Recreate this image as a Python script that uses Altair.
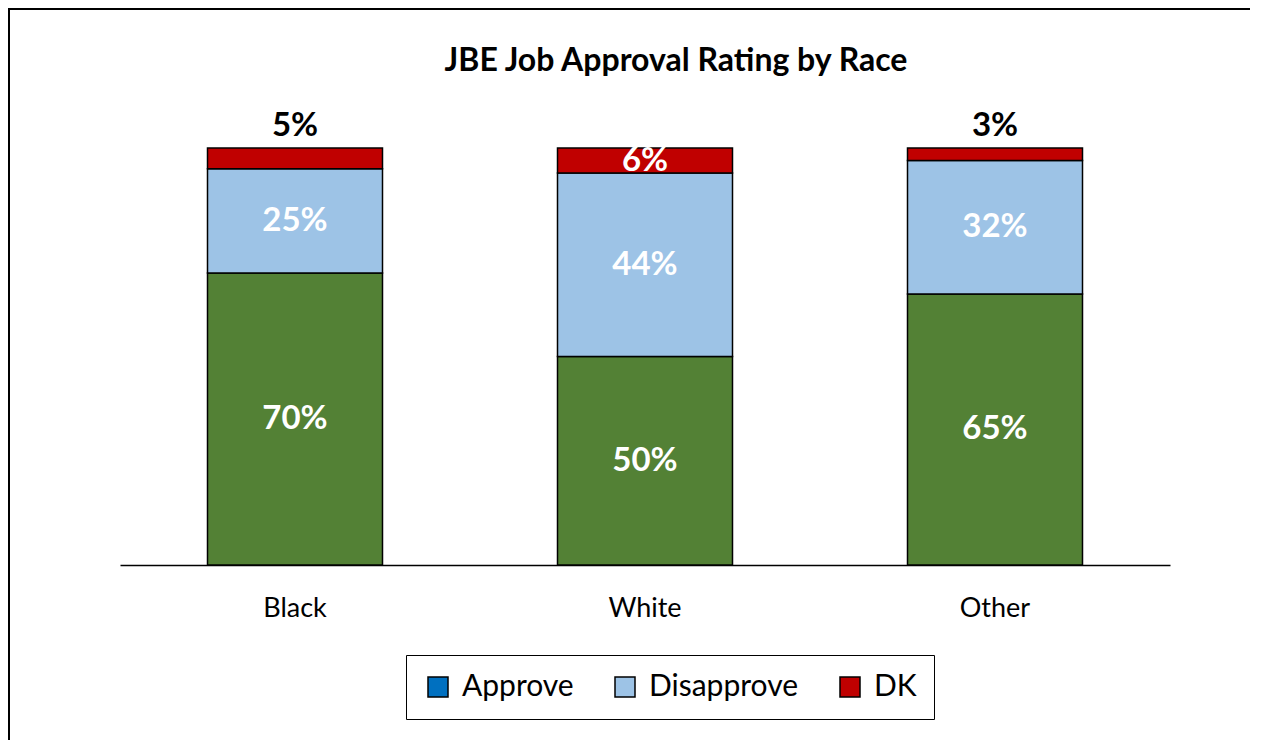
import altair as alt
import pandas as pd

races = ["Black", "White", "Other"]
series = ["Approve", "Disapprove", "DK"]
approve = [0.70, 0.50, 0.65]
disapprove = [0.25, 0.44, 0.32]
dk = [0.05, 0.06, 0.03]

bar_colors = ["#538135", "#9DC3E6", "#C00000"]
legend_colors = ["#0070C0", "#9DC3E6", "#C00000"]

rows = []
for i, r in enumerate(races):
    for s, vals in zip(series, [approve, disapprove, dk]):
        rows.append({"race": r, "series": s, "value": vals[i]})
df = pd.DataFrame(rows)

FONT = "Lato"

base = alt.Chart(df).transform_calculate(
    idx="indexof(['Approve','Disapprove','DK'], datum.series)"
)

x_enc = alt.X(
    "race:N",
    sort=races,
    scale=alt.Scale(paddingInner=0.5, paddingOuter=0.25),
    axis=alt.Axis(
        title=None, labelAngle=0, ticks=False, tickSize=0,
        domainColor="black", domainWidth=1.5,
        labelFontSize=27, labelFont=FONT, labelColor="black", labelPadding=30,
    ),
)

bars = base.mark_bar(stroke="black", strokeWidth=1.5).encode(
    x=x_enc,
    y=alt.Y("value:Q", stack="zero", scale=alt.Scale(domain=[0, 1], nice=False), axis=None),
    color=alt.Color("series:N", scale=alt.Scale(domain=series, range=bar_colors), legend=None),
    order=alt.Order("idx:Q", sort="ascending"),
)

stacked = base.transform_stack(
    stack="value", groupby=["race"], as_=["y0", "y1"], sort=[alt.SortField("idx")]
).transform_calculate(mid="(datum.y0 + datum.y1) / 2")

inside = stacked.transform_filter(
    "datum.series != 'DK' || datum.value >= 0.06"
).mark_text(font=FONT, fontSize=33, fontWeight="bold", color="white", baseline="middle").encode(
    x=alt.X("race:N", sort=races),
    y=alt.Y("mid:Q"),
    text=alt.Text("value:Q", format=".0%"),
)

outside = stacked.transform_filter(
    "datum.series == 'DK' && datum.value < 0.06"
).mark_text(font=FONT, fontSize=33, fontWeight="bold", color="black", baseline="alphabetic", dy=-12).encode(
    x=alt.X("race:N", sort=races),
    y=alt.Y("y1:Q"),
    text=alt.Text("value:Q", format=".0%"),
)

legend_layer = alt.Chart(df).transform_filter("false").mark_square(
    stroke="black", strokeWidth=1.5, opacity=1
).encode(
    fill=alt.Fill(
        "series:N",
        scale=alt.Scale(domain=series, range=legend_colors),
        legend=alt.Legend(
            title=None, orient="none", legendX=286, legendY=507, direction="horizontal",
            symbolType="square", symbolSize=400, symbolStrokeColor="black", symbolStrokeWidth=1.5,
            labelFontSize=30, labelFont=FONT, labelColor="black", labelOffset=9,
            columnPadding=36, padding=17, strokeColor="black",
        ),
    )
)

frame_src = alt.Chart(pd.DataFrame({"a": [0]}))
left_line = frame_src.mark_rule(color="black", strokeWidth=3).encode(
    x=alt.value(-111.5), y=alt.value(-141), y2=alt.value(900)
)
top_line = frame_src.mark_rule(color="black", strokeWidth=3).encode(
    x=alt.value(-113), x2=alt.value(1400), y=alt.value(-139.5)
)

chart = alt.layer(left_line, top_line, bars, inside, outside, legend_layer).properties(
    width=1050,
    height=417,
    autosize="none",
    padding={"left": 112, "top": 140, "right": 80, "bottom": 175},
    title=alt.TitleParams(
        text="JBE Job Approval Rating by Race",
        font=FONT, fontSize=32, fontWeight="bold", color="black",
        anchor="middle", frame="group", dx=31, baseline="alphabetic", offset=-97,
    ),
).resolve_scale(color="independent").configure(font=FONT).configure_view(strokeWidth=0, stroke="transparent")

chart.save("out.html", embed_options={"renderer": "svg", "actions": False})
